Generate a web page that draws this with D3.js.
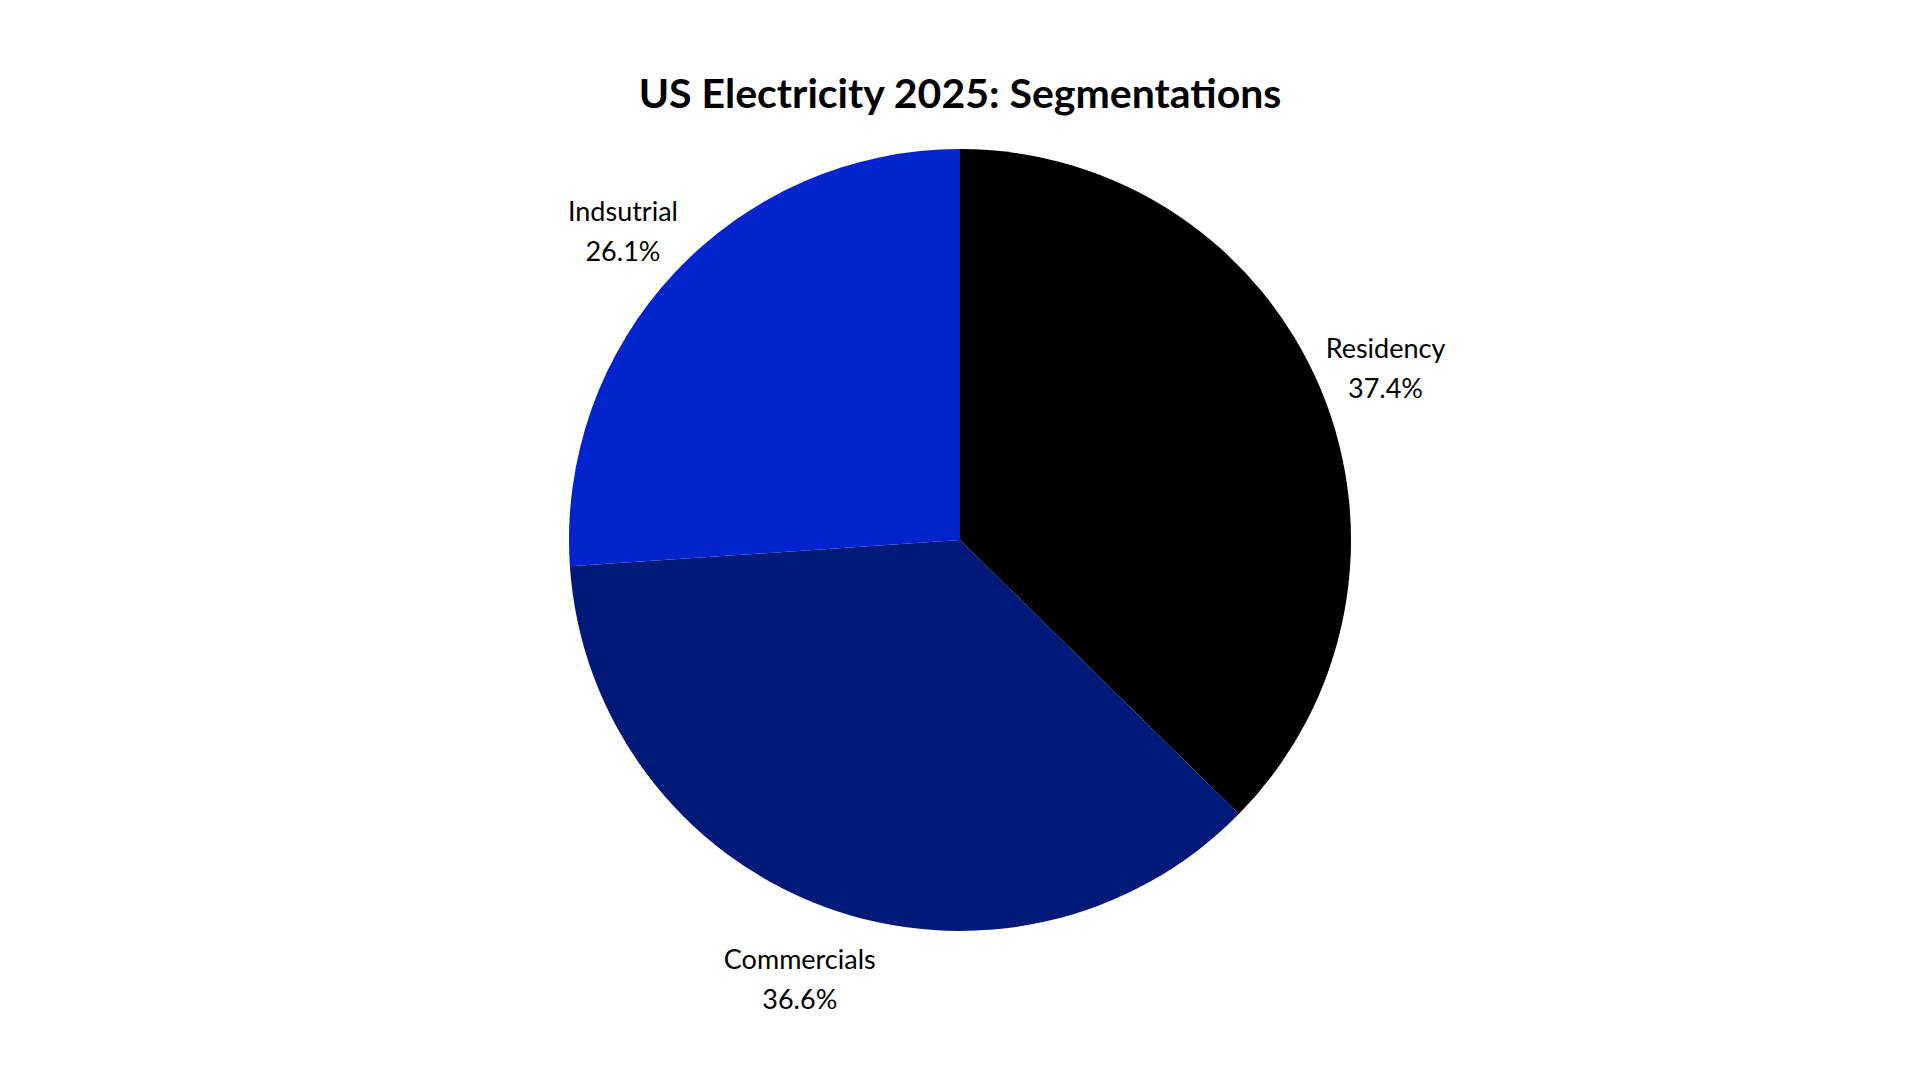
<!DOCTYPE html>
<html>
<head>
<meta charset="utf-8">
<script src="https://cdn.jsdelivr.net/npm/d3@7"></script>
<style>
  body { margin: 0; background: #fff; }
  svg { display: block; font-family: Lato, "Open Sans", sans-serif; }
</style>
</head>
<body>
<svg width="1920" height="1080"></svg>
<script>
var categories = ["Residency", "Commercials", "Indsutrial"];
var shares = [37.4, 36.6, 26.1];
var colors = ["#000000", "#011979", "#0323cd"];

var svg = d3.select("svg");
var cx = 960, cy = 540, radius = 391;

svg.append("text")
  .attr("x", cx).attr("y", 108)
  .attr("text-anchor", "middle")
  .style("font-size", "41px").style("font-weight", "bold")
  .text("US Electricity 2025: Segmentations");

var data = categories.map(function(c, i) { return { name: c, value: shares[i], color: colors[i] }; });

var pie = d3.pie().sort(null).value(function(d) { return d.value; });
var arc = d3.arc().innerRadius(0).outerRadius(radius);
var labelArc = d3.arc().innerRadius(radius * 1.18).outerRadius(radius * 1.18);

var g = svg.append("g").attr("transform", "translate(" + cx + "," + cy + ")");
var arcs = pie(data);

g.selectAll("path").data(arcs).enter().append("path")
  .attr("d", arc)
  .attr("fill", function(d) { return d.data.color; });

var labels = g.selectAll("text.lbl").data(arcs).enter().append("text")
  .attr("class", "lbl")
  .attr("text-anchor", "middle")
  .attr("transform", function(d) { return "translate(" + labelArc.centroid(d) + ")"; })
  .style("font-size", "27px");

labels.append("tspan").attr("x", 0).attr("dy", "-0.15em").text(function(d) { return d.data.name; });
labels.append("tspan").attr("x", 0).attr("dy", "1.5em").text(function(d) { return d.data.value.toFixed(1) + "%"; });
</script>
</body>
</html>
